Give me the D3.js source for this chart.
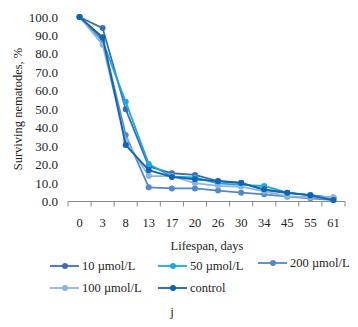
<!DOCTYPE html>
<html>
<head>
<meta charset="utf-8">
<script src="https://cdn.jsdelivr.net/npm/d3@7"></script>
<style>
  body { margin: 0; background: #fff; }
  text { font-family: "Liberation Serif", "Times New Roman", serif; fill: #222; }
</style>
</head>
<body>
<div id="main"></div>
<script>
// lifespan categories on the x axis
const days = ["0", "3", "8", "13", "17", "20", "26", "30", "34", "45", "55", "61"];

// surviving nematodes, %
const conc10 = [100, 94, 50, 19, 15.3, 14.4, 11.1, 10.2, 6.2, 4.6, 3.5, 2.0];
const conc50 = [100, 87, 54, 20.3, 13.5, 13.0, 9.8, 9.0, 8.4, 4.8, 3.5, 1.8];
const conc200 = [100, 88, 36, 7.7, 7.1, 7.1, 5.9, 4.8, 3.9, 2.6, 1.7, 0.8];
const conc100 = [100, 85, 33, 13.8, 13.8, 9.9, 8.5, 8.0, 5.5, 2.8, 2.3, 2.3];
const control = [100, 89, 30.6, 17, 13.3, 12.0, 11.0, 10.0, 6.6, 4.8, 3.3, 0.8];

const yTicks = [0, 10, 20, 30, 40, 50, 60, 70, 80, 90, 100];

const series = [
    { name: "10 \u00b5mol/L", values: conc10, color: "#3b6db3" },
    { name: "50 \u00b5mol/L", values: conc50, color: "#1fa6e0" },
    { name: "200 \u00b5mol/L", values: conc200, color: "#5288cb" },
    { name: "100 \u00b5mol/L", values: conc100, color: "#8cb5e1" },
    { name: "control", values: control, color: "#1064b0" }
];

const width = 358, height = 327;
const plot = { left: 68, right: 345, top: 17, bottom: 201.5 };

const svg = d3.select('#main')
    .append('svg')
    .attr('width', width)
    .attr('height', height);

const x = d3.scaleBand().domain(days).range([plot.left, plot.right]);
const y = d3.scaleLinear().domain([0, 100]).range([plot.bottom, plot.top]);

// y labels only, no axis line
svg.append('g')
    .selectAll('text')
    .data(yTicks)
    .enter()
    .append('text')
    .attr('x', 58)
    .attr('y', d => y(d))
    .attr('dy', '0.35em')
    .attr('text-anchor', 'end')
    .style('font-size', '13px')
    .text(d => d.toFixed(1));

// x axis with band boundary ticks
const xAxis = svg.append('g');
xAxis.append('line')
    .attr('x1', plot.left).attr('x2', plot.right)
    .attr('y1', plot.bottom).attr('y2', plot.bottom)
    .attr('stroke', '#888').attr('stroke-width', 1);
xAxis.selectAll('.tk')
    .data(days.concat(['end']))
    .enter()
    .append('line')
    .attr('x1', (d, i) => plot.left + i * x.step())
    .attr('x2', (d, i) => plot.left + i * x.step())
    .attr('y1', plot.bottom).attr('y2', plot.bottom + 5)
    .attr('stroke', '#888');
xAxis.selectAll('text')
    .data(days)
    .enter()
    .append('text')
    .attr('x', d => x(d) + x.bandwidth() / 2)
    .attr('y', 227)
    .attr('text-anchor', 'middle')
    .style('font-size', '12.5px')
    .text(d => d);

svg.append('text')
    .attr('x', 207).attr('y', 250)
    .attr('text-anchor', 'middle')
    .style('font-size', '12.5px')
    .text('Lifespan, days');

svg.append('text')
    .attr('transform', 'translate(22,109) rotate(-90)')
    .attr('text-anchor', 'middle')
    .style('font-size', '12.5px')
    .text('Surviving nematodes, %');

// lines + markers
const line = d3.line()
    .x((d, i) => x(days[i]) + x.bandwidth() / 2)
    .y(d => y(d));

series.forEach(s => {
    const g = svg.append('g');
    g.append('path')
        .datum(s.values)
        .attr('d', line)
        .attr('fill', 'none')
        .attr('stroke', s.color)
        .attr('stroke-width', 1.8);
    g.selectAll('circle')
        .data(s.values)
        .enter()
        .append('circle')
        .attr('cx', (d, i) => x(days[i]) + x.bandwidth() / 2)
        .attr('cy', d => y(d))
        .attr('r', 3)
        .attr('fill', s.color);
});

// legend
const legendPos = [
    { x: 50, y: 266 },
    { x: 158, y: 266 },
    { x: 258, y: 263 },
    { x: 50, y: 288 },
    { x: 158, y: 288 }
];

series.forEach((s, i) => {
    const p = legendPos[i];
    const g = svg.append('g').attr('transform', `translate(${p.x},${p.y})`);
    g.append('line')
        .attr('x1', 0).attr('x2', 29)
        .attr('y1', 0).attr('y2', 0)
        .attr('stroke', s.color).attr('stroke-width', 1.8);
    g.append('circle').attr('cx', 15).attr('cy', 0).attr('r', 3).attr('fill', s.color);
    g.append('text')
        .attr('x', 32).attr('y', 0).attr('dy', '0.35em')
        .style('font-size', '12.5px')
        .text(s.name);
});

svg.append('text')
    .attr('x', 172).attr('y', 316)
    .attr('text-anchor', 'middle')
    .style('font-size', '13px')
    .text('j');
</script>
</body>
</html>
